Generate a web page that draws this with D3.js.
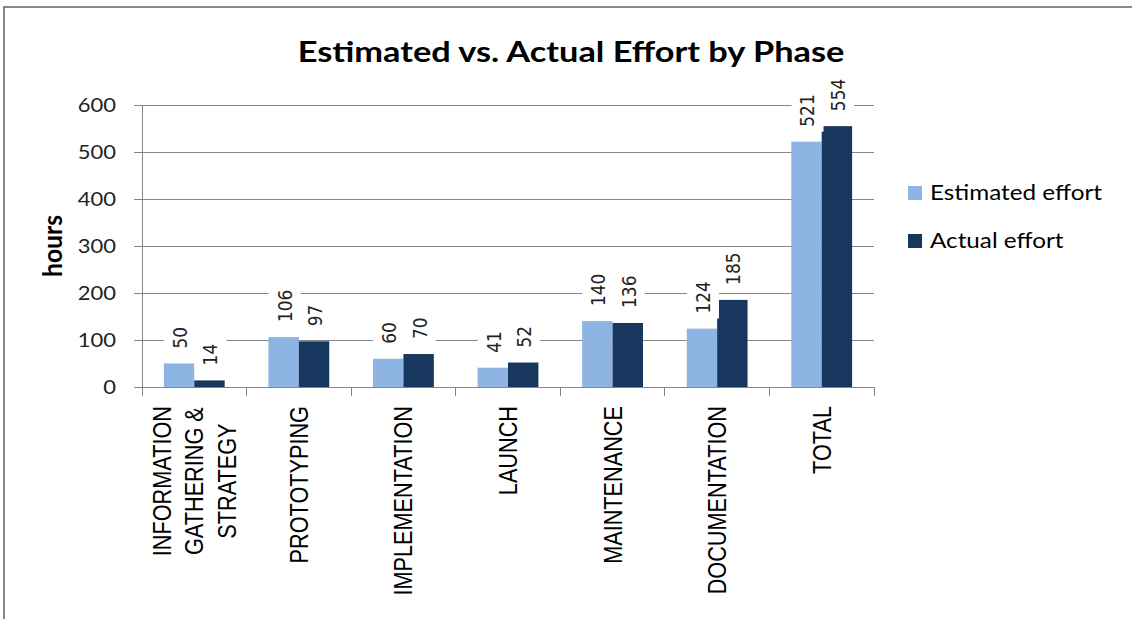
<!DOCTYPE html>
<html lang="en">
<head>
    <meta charset="UTF-8">
    <title>Estimated vs. Actual Effort by Phase</title>
    <script src="https://d3js.org/d3.v7.min.js"></script>
</head>

<style>
    body {
        margin: 0;
        background: #fff;
    }

    svg {
        display: block;
    }

    .grid line,
    .axis line,
    .axis path {
        stroke: #868686;
        stroke-width: 1px;
        shape-rendering: crispEdges;
    }

    .grid path {
        display: none;
    }
</style>

<body>
<div id="chart"></div>

<script>
  /** DATA */
  var categories = ['INFORMATION\nGATHERING &\nSTRATEGY', 'PROTOTYPING', 'IMPLEMENTATION', 'LAUNCH',
    'MAINTENANCE', 'DOCUMENTATION', 'TOTAL'];
  var seriesNames = ['Estimated effort', 'Actual effort'];
  var estimated = [50, 106, 60, 41, 140, 124, 521];
  var actual = [14, 97, 70, 52, 136, 185, 554];
  var yTicks = [0, 100, 200, 300, 400, 500, 600];

  /** LAYOUT */
  var width = 1132, height = 619;
  var plot = {left: 142, right: 874, top: 104.5, bottom: 387};
  var colors = ['#8eb4e3', '#17375e'];
  // text in the reference is drawn a little wider than it is tall
  var stretchX = 1.13;

  var svg_selection = d3.select('#chart')
    .append('svg')
    .attr('width', width)
    .attr('height', height);

  // chart frame (runs off the right and bottom of the picture)
  svg_selection.append('rect')
    .attr('x', 4).attr('y', 7)
    .attr('width', 1200).attr('height', 700)
    .attr('fill', 'none')
    .attr('stroke', '#888')
    .attr('stroke-width', 2);

  var y = d3.scaleLinear().domain([0, 600]).range([plot.bottom, plot.top]);
  var x0 = d3.scaleBand().domain(categories).range([plot.left, plot.right]);
  var x1 = d3.scaleBand().domain(seriesNames).range([0, x0.bandwidth()])
    .paddingInner(0).paddingOuter(0.72);

  var rows = categories.map(function (c, i) {
    return {cat: c, values: [
      {name: seriesNames[0], v: estimated[i], color: colors[0]},
      {name: seriesNames[1], v: actual[i], color: colors[1]}
    ]};
  });

  buildTitle();
  buildGrid();
  buildBars();
  buildAxes();
  buildLegend();

  /** FUNCTIONS **/
  function fitScale(textSel, target) {
    return target / textSel.node().getComputedTextLength();
  }

  function buildTitle() {
    var t = svg_selection.append('text')
      .attr('text-anchor', 'middle')
      .attr('font-family', 'Lato, sans-serif')
      .attr('font-weight', 'bold')
      .attr('font-size', 29)
      .attr('fill', '#000')
      .text('Estimated vs. Actual Effort by Phase');
    t.attr('transform', 'translate(571,62) scale(' + fitScale(t, 547) + ',1)');
  }

  function buildGrid() {
    svg_selection.append('g')
      .attr('class', 'grid')
      .attr('transform', 'translate(' + plot.left + ',0)')
      .call(d3.axisLeft(y).tickValues(yTicks.slice(1))
        .tickSize(-(plot.right - plot.left)).tickFormat(''));
  }

  function buildBars() {
    var cat_selection = svg_selection.append('g')
      .selectAll('g')
      .data(rows)
      .enter().append('g')
      .attr('transform', function (d) { return 'translate(' + x0(d.cat) + ',0)'; });

    cat_selection.selectAll('rect')
      .data(function (d) { return d.values; })
      .enter().append('rect')
      .attr('x', function (d) { return x1(d.name); })
      .attr('y', function (d) { return y(d.v); })
      .attr('width', x1.bandwidth())
      .attr('height', function (d) { return y(0) - y(d.v); })
      .attr('fill', function (d) { return d.color; });

    /** value labels: rotated, on a white box that hides the gridlines */
    var label_selection = cat_selection.selectAll('g.value')
      .data(function (d) { return d.values; })
      .enter().append('g')
      .classed('value', true);

    var boxes = label_selection.append('rect').attr('fill', '#fff');
    var texts = label_selection.append('text')
      .attr('font-family', '"DejaVu Sans", sans-serif')
      .attr('font-size', 17)
      .attr('fill', '#222')
      .attr('text-anchor', 'start')
      .attr('dy', '0.36em')
      .text(function (d) { return d.v; })
      .attr('transform', function (d) {
        var cx = x1(d.name) + x1.bandwidth() / 2 + 1;
        return 'translate(' + cx + ',' + (y(d.v) - 15) + ') scale(' + stretchX + ',1) rotate(-90)';
      });

    texts.each(function (d) { d.len = this.getComputedTextLength(); });
    boxes
      .attr('x', function (d) { return x1(d.name) + x1.bandwidth() / 2 + 1 - 16; })
      .attr('y', function (d) { return y(d.v) - 15 - d.len - 5; })
      .attr('width', 32)
      .attr('height', function (d) { return d.len + 10; });
  }

  function buildAxes() {
    /** y axis */
    var yAxis = svg_selection.append('g')
      .attr('class', 'axis')
      .attr('transform', 'translate(' + plot.left + ',0)')
      .call(d3.axisLeft(y).tickValues(yTicks).tickSize(8).tickSizeOuter(0));

    yAxis.selectAll('text')
      .attr('x', 0)
      .attr('dy', '0.34em')
      .attr('font-family', 'Lato, sans-serif')
      .attr('font-size', 20)
      .attr('fill', '#222')
      .attr('transform', 'translate(-26,0) scale(1.1,1)');

    var yLabel = svg_selection.append('text')
      .attr('text-anchor', 'middle')
      .attr('font-family', 'Lato, sans-serif')
      .attr('font-weight', 'bold')
      .attr('font-size', 21)
      .attr('fill', '#000')
      .attr('dy', '0.35em')
      .text('hours');
    var hs = fitScale(yLabel, 62);
    yLabel.attr('font-size', 21 * hs)
      .attr('transform', 'translate(53,246) scale(1.05,1) rotate(-90)');

    /** x axis: line and ticks on the category boundaries */
    var xAxis = svg_selection.append('g').attr('class', 'axis');
    xAxis.append('line')
      .attr('x1', plot.left).attr('x2', plot.right)
      .attr('y1', y(0)).attr('y2', y(0));

    var boundaries = categories.map(function (c) { return x0(c); }).concat([x0.range()[1]]);
    xAxis.selectAll('line.tick')
      .data(boundaries)
      .enter().append('line')
      .classed('tick', true)
      .attr('x1', function (d) { return d; }).attr('x2', function (d) { return d; })
      .attr('y1', y(0)).attr('y2', y(0) + 9);

    /** category labels, rotated, reading upward */
    var labelTop = y(0) + 19;
    var lineGap = 32.5;
    categories.forEach(function (c) {
      var lines = c.split('\n');
      var g = svg_selection.append('g');
      var cx = x0(c) + x0.bandwidth() / 2;
      var t = g.selectAll('text')
        .data(lines)
        .enter().append('text')
        .attr('font-family', '"Liberation Sans", Arial, sans-serif')
        .attr('font-size', 21.7)
        .attr('fill', '#000')
        .attr('text-anchor', 'middle')
        .attr('dy', '0.35em')
        .text(function (d) { return d; });
      var maxLen = d3.max(t.nodes(), function (n) { return n.getComputedTextLength(); });
      t.attr('transform', function (d, i) {
        var lx = cx + (i - (lines.length - 1) / 2) * lineGap;
        return 'translate(' + lx + ',' + (labelTop + maxLen / 2) + ') scale(1.18,1) rotate(-90)';
      });
    });
  }

  function buildLegend() {
    var legend_selection = svg_selection.append('g')
      .attr('transform', 'translate(908,186)');

    var item = legend_selection.selectAll('g')
      .data(seriesNames)
      .enter().append('g')
      .attr('transform', function (_, i) { return 'translate(0,' + i * 48 + ')'; });

    item.append('rect')
      .attr('width', 14).attr('height', 14)
      .attr('fill', function (_, i) { return colors[i]; });

    var texts = item.append('text')
      .attr('font-family', 'Lato, sans-serif')
      .attr('font-size', 22)
      .attr('fill', '#000')
      .text(function (d) { return d; });
    var k = fitScale(d3.select(texts.nodes()[0]), 172);
    texts.attr('transform', 'translate(22,14) scale(' + k + ',1)');
  }
</script>
</body>
</html>
